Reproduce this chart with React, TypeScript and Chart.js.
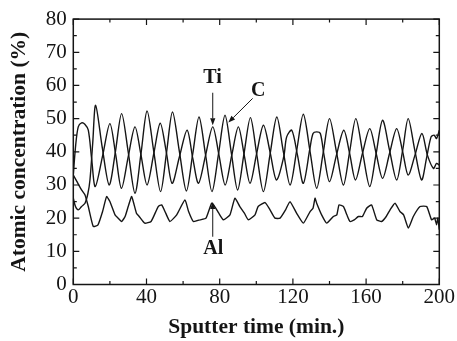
import React, { useEffect, useRef } from "react";
import { Chart, registerables } from "chart.js";

Chart.register(...registerables);

// ---- data ----
const tiTime = [0, 1.3, 2.7, 4.5, 6.3, 8.2, 10, 12, 16.1, 20, 23.2, 26.3, 30, 33.7, 37, 40.3, 44, 47.5, 50.8, 54, 58, 62.2, 65.3, 68.4, 72.3, 76.2, 79.6, 83, 86.6, 90.2, 93.4, 96.6, 100.2, 103.9, 107.5, 111, 115, 116.6, 119.4, 122.5, 125.7, 129.3, 131, 133, 135, 137, 140, 143.8, 147.8, 151, 154.2, 158, 162, 165.5, 169, 172.8, 176.7, 180, 183, 186.7, 190.5, 193.5, 196.8, 198.5, 200];
const tiValue = [33, 42, 47.5, 48.7, 48.3, 46.5, 38, 29.5, 39, 48.5, 39, 29, 38.5, 47.5, 39, 30, 39.5, 48.6, 40, 30.5, 38.5, 46.5, 38, 30.5, 39, 47.5, 39, 30, 39, 47.5, 39, 30.5, 39.5, 48, 40, 31.5, 38.5, 44.5, 46.5, 39, 30.5, 41, 45.5, 46, 45.5, 39, 31, 39, 46.5, 39.5, 31.5, 39.5, 47, 39.5, 32, 39.5, 47, 40, 33, 39, 45.5, 39, 35, 36.5, 36];

const cTime = [0, 1.2, 2.7, 4.5, 6.4, 8, 9.1, 10.6, 12.2, 15.9, 19.6, 23, 26.4, 30, 33.7, 37, 40.3, 44, 47.7, 51, 54.2, 58, 61.8, 65.3, 68.7, 72.3, 75.8, 79.4, 82.9, 86.4, 89.8, 93.3, 96.8, 100.3, 103.9, 107.6, 111.2, 114.8, 118.5, 122.1, 125.7, 129.4, 133, 136.5, 140, 143.8, 147.6, 151, 154.4, 158.2, 162, 165.5, 169, 172.8, 176.7, 180, 183, 186.6, 190.3, 193, 195.5, 197.2, 198.5, 200];
const cValue = [26, 23.5, 22.5, 23.5, 24.5, 27.5, 31.5, 42.5, 54, 41, 30, 40, 51.5, 40, 27.5, 39.5, 52.3, 40, 28, 40, 52, 40, 28.2, 39.5, 50.5, 39, 28, 39.5, 51, 39.5, 28.5, 39.5, 50.3, 39, 28, 39.5, 50.5, 40, 30, 40.5, 51.3, 40, 29, 39.5, 50, 40, 30, 40, 50, 39.5, 29.5, 39.5, 49.5, 40.5, 31.5, 40.5, 50, 40.5, 31.5, 38, 44.5, 45, 44, 46.5];

const alTime = [0, 2, 4.5, 6.4, 8.2, 10.9, 13.5, 16, 18.2, 20, 22.8, 24.5, 26.4, 28.3, 30, 31.9, 34.5, 36, 39, 42.5, 46.4, 48.3, 50.5, 52.8, 56.5, 61, 63, 65.6, 69.3, 72.5, 75.6, 77.3, 79.5, 82, 85.6, 88.3, 91, 93.5, 95.6, 99.3, 101, 104.8, 107.5, 110.2, 113, 116, 118.4, 122, 125.7, 129.4, 131, 132.1, 133, 135.7, 138.5, 142.1, 144, 145.2, 147.6, 149.5, 151.2, 153.5, 155.8, 158, 160.3, 163, 165.8, 168.5, 171, 173.1, 175.8, 178.5, 180.5, 183.1, 185.8, 189.5, 193.1, 195.8, 197.5, 198.5, 199.2, 200];
const alValue = [33, 31, 28.5, 27, 23.5, 17.5, 18, 22, 26.5, 25, 21, 20, 19, 20.5, 23.5, 26.5, 21.5, 20.5, 18.5, 19, 23.5, 24, 21.5, 19, 21, 25.5, 22, 19, 19.5, 20, 24.5, 23.5, 21.5, 19.5, 21, 26, 23.5, 21.5, 19.5, 21, 23.5, 24.7, 22.5, 20, 20, 22.5, 25, 21.5, 18.5, 22, 23, 26, 24.5, 21, 18.5, 20.5, 21, 24, 23.5, 21, 19, 19.5, 20.5, 20.5, 23, 24, 19.5, 19, 20.5, 22.5, 24.5, 22, 21, 17, 20.5, 23.5, 23.5, 19.5, 20, 18, 20, 16.5];

const xTickValues = [0, 40, 80, 120, 160, 200];
const xMinorValues = [20, 60, 100, 140, 180];
const yTickValues = [0, 10, 20, 30, 40, 50, 60, 70, 80];
const yMinorValues = [5, 15, 25, 35, 45, 55, 65, 75];
const xTitle = "Sputter time (min.)";
const yTitle = "Atomic concentration (%)";

// annotation labels and arrows (data coordinates)
const noteTexts = [
  { text: "Ti", x: 76.1, y: 62.4 },
  { text: "C", x: 101.1, y: 58.4 },
  { text: "Al", x: 76.5, y: 10.8 },
];
const noteArrows = [
  { x0: 76.2, y0: 57.8, x1: 76.2, y1: 48.0 },
  { x0: 98.0, y0: 56.1, x1: 84.7, y1: 48.8 },
  { x0: 76.2, y0: 14.4, x1: 76.2, y1: 24.9 },
];

const FONT = "'Liberation Serif', 'Times New Roman', Times, serif";
const INK = "#151515";

const toPoints = (t: number[], v: number[]) => t.map((x, i) => ({ x, y: v[i] }));

const framePlugin = {
  id: "frameTicks",
  afterDatasetsDraw(chart: any) {
    const { ctx, chartArea, scales } = chart;
    const { left, right, top, bottom } = chartArea;
    const x = scales.x;
    const y = scales.y;
    ctx.save();
    ctx.strokeStyle = INK;
    ctx.lineWidth = 1.5;
    ctx.strokeRect(left, top, right - left, bottom - top);
    ctx.lineWidth = 1.2;
    const major = 6;
    const minor = 3.5;
    const drawX = (v: number, len: number) => {
      const px = x.getPixelForValue(v);
      ctx.beginPath();
      ctx.moveTo(px, bottom);
      ctx.lineTo(px, bottom - len);
      ctx.moveTo(px, top);
      ctx.lineTo(px, top + len);
      ctx.stroke();
    };
    const drawY = (v: number, len: number) => {
      const py = y.getPixelForValue(v);
      ctx.beginPath();
      ctx.moveTo(left, py);
      ctx.lineTo(left + len, py);
      ctx.moveTo(right, py);
      ctx.lineTo(right - len, py);
      ctx.stroke();
    };
    xTickValues.forEach((v) => drawX(v, major));
    xMinorValues.forEach((v) => drawX(v, minor));
    yTickValues.forEach((v) => drawY(v, major));
    yMinorValues.forEach((v) => drawY(v, minor));

    // annotations
    ctx.fillStyle = INK;
    ctx.font = `bold 20px ${FONT}`;
    ctx.textAlign = "center";
    ctx.textBaseline = "middle";
    noteTexts.forEach((n) => {
      ctx.fillText(n.text, x.getPixelForValue(n.x), y.getPixelForValue(n.y));
    });
    ctx.lineWidth = 1;
    noteArrows.forEach((a) => {
      const x0 = x.getPixelForValue(a.x0);
      const y0 = y.getPixelForValue(a.y0);
      const x1 = x.getPixelForValue(a.x1);
      const y1 = y.getPixelForValue(a.y1);
      const ang = Math.atan2(y1 - y0, x1 - x0);
      const hl = 7;
      const hw = 2.6;
      const bx = x1 - hl * Math.cos(ang);
      const by = y1 - hl * Math.sin(ang);
      ctx.beginPath();
      ctx.moveTo(x0, y0);
      ctx.lineTo(bx, by);
      ctx.stroke();
      ctx.beginPath();
      ctx.moveTo(x1, y1);
      ctx.lineTo(bx + hw * Math.sin(ang), by - hw * Math.cos(ang));
      ctx.lineTo(bx - hw * Math.sin(ang), by + hw * Math.cos(ang));
      ctx.closePath();
      ctx.fill();
    });
    ctx.restore();
  },
};

export default function App() {
  const ref = useRef<HTMLCanvasElement>(null);
  useEffect(() => {
    document.body.style.margin = "0";
    const lineStyle = {
      borderColor: INK,
      borderWidth: 1.4,
      pointRadius: 0,
      fill: false,
    };
    const chart = new Chart(ref.current as HTMLCanvasElement, {
      type: "line",
      data: {
        datasets: [
          { label: "Ti", data: toPoints(tiTime, tiValue), tension: 0.3, ...lineStyle },
          { label: "C", data: toPoints(cTime, cValue), tension: 0.3, ...lineStyle },
          { label: "Al", data: toPoints(alTime, alValue), tension: 0.15, ...lineStyle },
        ],
      },
      options: {
        animation: false,
        responsive: false,
        devicePixelRatio: 1,
        layout: { padding: { top: 18.3, right: 17.7, left: 0, bottom: 0 } },
        plugins: { legend: { display: false }, tooltip: { enabled: false } },
        scales: {
          x: {
            type: "linear",
            min: 0,
            max: 200,
            afterBuildTicks: (s: any) => {
              s.ticks = xTickValues.map((v) => ({ value: v }));
            },
            afterFit: (s: any) => {
              s.height = 56.5;
            },
            ticks: {
              font: { family: FONT, size: 21 },
              color: INK,
              padding: 0,
              maxRotation: 0,
              autoSkip: false,
            },
            grid: { display: false, drawTicks: false, tickLength: 0 },
            border: { display: false },
            title: {
              display: true,
              text: xTitle,
              color: INK,
              font: { family: FONT, size: 21.5, weight: "bold" },
              padding: { top: 0, bottom: 1 },
            },
          },
          y: {
            type: "linear",
            min: 0,
            max: 80,
            afterBuildTicks: (s: any) => {
              s.ticks = yTickValues.map((v) => ({ value: v }));
            },
            afterFit: (s: any) => {
              s.width = 73.3;
            },
            ticks: {
              font: { family: FONT, size: 21 },
              color: INK,
              padding: 6.5,
              autoSkip: false,
            },
            grid: { display: false, drawTicks: false, tickLength: 0 },
            border: { display: false },
            title: {
              display: true,
              text: yTitle,
              color: INK,
              font: { family: FONT, size: 21.5, weight: "bold" },
              padding: { top: 6.5, bottom: 0 },
            },
          },
        },
      },
      plugins: [framePlugin],
    } as any);
    return () => chart.destroy();
  }, []);
  return (
    <div style={{ width: 457, height: 341, background: "#fff" }}>
      <canvas ref={ref} width={457} height={341} style={{ display: "block", width: 457, height: 341 }} />
    </div>
  );
}
